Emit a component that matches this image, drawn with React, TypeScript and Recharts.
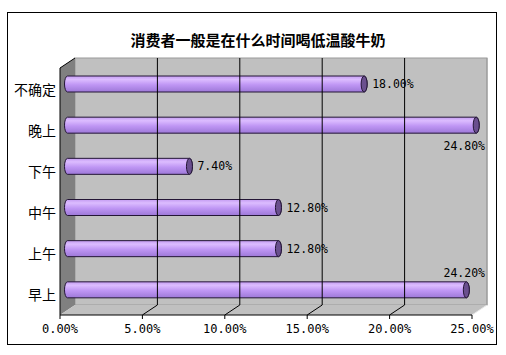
import {
  BarChart,
  Bar,
  XAxis,
  YAxis,
  ReferenceArea,
  ReferenceLine,
  LabelList,
} from "recharts";

const categories = ["不确定", "晚上", "下午", "中午", "上午", "早上"];
const shares = [18.0, 24.8, 7.4, 12.8, 12.8, 24.2];
const xTicks = [0, 5, 10, 15, 20, 25];

const data = categories.map((name, i) => ({ name, value: shares[i] }));

const W = 506;
const H = 355;
const M = { top: 68, right: 34, bottom: 0, left: 0 };
const PLOT_RIGHT = W - M.right;
// 3D depth of the box
const DX = 15;
const DY = 10;

const monoFont = "'DejaVu Sans Mono', monospace";
const cjkFont = "'Noto Sans CJK SC', sans-serif";

const Walls = (props: any) => {
  const { x, y, width, height } = props;
  const b = y + height;
  const r = x + width;
  return (
    <g>
      <rect x={x + DX} y={y - DY} width={width} height={height} fill="#c0c0c0" stroke="#9a9a9a" />
      <polygon
        points={`${x},${y} ${x + DX},${y - DY} ${x + DX},${b - DY} ${x},${b}`}
        fill="#808080"
      />
      <polygon
        points={`${x},${b} ${x + DX},${b - DY} ${r + DX},${b - DY} ${r},${b}`}
        fill="#c0c0c0"
      />
      <line x1={r} y1={b} x2={r + DX} y2={b - DY} stroke="#e8e8e8" />
      <polyline points={`${x},${y} ${x + DX},${y - DY}`} stroke="#000" fill="none" />
    </g>
  );
};

// back-wall gridline plus its diagonal on the floor
const GridLine = (p: any) => {
  const x1 = Math.min(p.x1, p.x2);
  const top = Math.min(p.y1, p.y2);
  const bot = Math.max(p.y1, p.y2);
  const last = p.last;
  return (
    <g>
      <line x1={x1 + DX} y1={top - DY} x2={x1 + DX} y2={bot - DY} stroke={last ? "#9a9a9a" : "#000"} />
      {!last && <line x1={x1 + DX} y1={bot - DY} x2={x1} y2={bot} stroke="#000" />}
    </g>
  );
};

const Cylinder = (props: any) => {
  const { x, y, width, height } = props;
  const bx = x + DX / 2;
  const by = y - DY / 2;
  const r = height / 2;
  const ex = 3;
  const d = `M${bx},${by} L${bx + width},${by} A${ex},${r} 0 0 1 ${bx + width},${by + height} L${bx},${by + height} A${ex},${r} 0 0 1 ${bx},${by} Z`;
  return (
    <g>
      <path d={d} fill="url(#cylFill)" stroke="#241636" strokeWidth={1} />
      <ellipse cx={bx + width} cy={by + r} rx={ex} ry={r} fill="#6a4f8e" stroke="#241636" />
    </g>
  );
};

const ValueLabel = (p: any) => {
  const { x, y, width, height, value, index } = p;
  const ex = x + DX / 2 + width;
  const cy = y - DY / 2 + height / 2;
  const text = `${Number(value).toFixed(2)}%`;
  const style = { fontFamily: monoFont, fontSize: 11.5, fill: "#000" };
  if (ex + 50 > PLOT_RIGHT + DX) {
    const below = index < categories.length - 1;
    return (
      <text
        x={PLOT_RIGHT + 13}
        y={below ? cy + 21 : cy - 17}
        textAnchor="end"
        dominantBaseline="central"
        {...style}
      >
        {text}
      </text>
    );
  }
  return (
    <text x={ex + 8} y={cy} dominantBaseline="central" {...style}>
      {text}
    </text>
  );
};

const CatTick = (p: any) => {
  const { x, y, payload } = p;
  return (
    <text x={x - 4} y={y} textAnchor="end" dominantBaseline="central" fontFamily={cjkFont} fontSize={14} fill="#000">
      {payload.value}
    </text>
  );
};

export default function App() {
  return (
    <div style={{ position: "absolute", left: 0, top: 0, width: W, height: H, background: "#fff" }}>
      <svg width={0} height={0} style={{ position: "absolute" }}>
        <defs>
          <linearGradient id="cylFill" x1="0" y1="0" x2="0" y2="1">
            <stop offset="0%" stopColor="#c49cf2" />
            <stop offset="22%" stopColor="#dcbcff" />
            <stop offset="55%" stopColor="#bf96f4" />
            <stop offset="100%" stopColor="#9d78d8" />
          </linearGradient>
        </defs>
      </svg>
      <div
        style={{
          position: "absolute",
          left: 7,
          top: 12,
          width: 488,
          height: 331,
          border: "1px solid #000",
        }}
      />
      <div
        style={{
          position: "absolute",
          left: 0,
          top: 31,
          width: 516,
          textAlign: "center",
          fontFamily: cjkFont,
          fontWeight: "bold",
          fontSize: 15,
          lineHeight: "18px",
          color: "#000",
        }}
      >
        消费者一般是在什么时间喝低温酸牛奶
      </div>
      <div style={{ position: "absolute", left: 0, top: 0 }}>
        <BarChart width={W} height={H} data={data} layout="vertical" margin={M} barSize={16}>
          <ReferenceArea x1={0} x2={25} shape={<Walls />} ifOverflow="visible" />
          {xTicks.slice(1).map((t, i) => (
            <ReferenceLine
              key={t}
              x={t}
              ifOverflow="visible"
              shape={(p: any) => <GridLine {...p} last={i === xTicks.length - 2} />}
            />
          ))}
          <XAxis
            type="number"
            domain={[0, 25]}
            ticks={xTicks}
            height={40}
            stroke="#000"
            tickSize={4}
            tickMargin={5}
            tickFormatter={(v: number) => `${v.toFixed(2)}%`}
            tick={{ fontFamily: monoFont, fontSize: 12, fill: "#000" }}
          />
          <YAxis
            type="category"
            dataKey="name"
            width={60}
            stroke="#000"
            tickLine={false}
            tickSize={0}
            tickMargin={0}
            tick={<CatTick />}
          />
          <Bar dataKey="value" shape={<Cylinder />} isAnimationActive={false}>
            <LabelList dataKey="value" content={<ValueLabel />} />
          </Bar>
        </BarChart>
      </div>
    </div>
  );
}
